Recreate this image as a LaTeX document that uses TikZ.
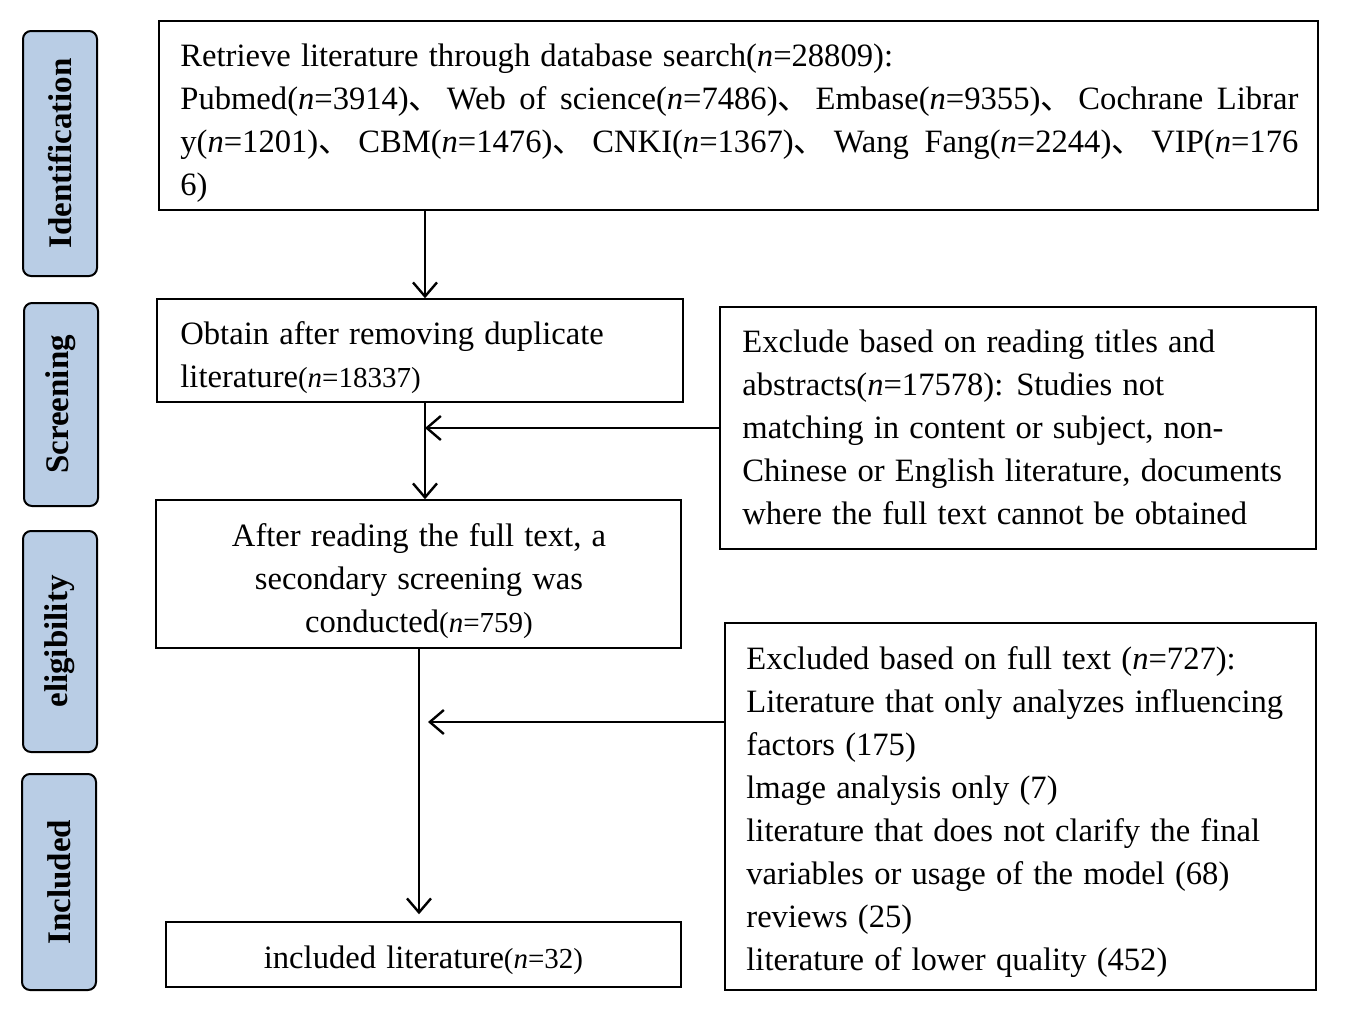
\documentclass[tikz,border=0pt]{standalone}
\usepackage{fontspec}
\setmainfont[WordSpace=1.25]{Liberation Serif}
\newfontfamily\cjkfont{Noto Sans CJK SC}
\newcommand{\dn}{{\cjkfont 、}\hskip 0pt plus 1fil\relax}
\newcommand{\nn}{\textit{n}}
\newcommand{\smallnum}[1]{{\fontsize{14.5}{21.5}\selectfont #1}}
\newcommand{\jline}[1]{\leavevmode\hbox to 559pt{\spaceskip=0.25em plus 1fil\relax #1}}
\usetikzlibrary{arrows.meta}
\definecolor{sideblue}{RGB}{185,205,229}
\begin{document}
\begin{tikzpicture}[x=0.5pt,y=-0.5pt,
  font=\fontsize{16.3}{21.5}\selectfont,
  box/.style={draw, line width=0.75pt, inner sep=0pt},
  txt/.style={inner sep=0pt},
  side/.style={draw, line width=1pt, fill=sideblue, rounded corners=4pt, rotate=90,
    minimum height=37pt, inner sep=0pt, font=\fontsize{16.5}{18}\selectfont\bfseries},
  arr/.style={line width=1.2pt, -{Straight Barb[length=7pt,width=12pt,line width=1.2pt]}}]
\useasboundingbox (0,0) rectangle (1346,1017);

% side labels
\node[side, minimum width=122.5pt] (sid) at (60,153.5) {Identification};
\node[side, minimum width=101.5pt] (ssc) at (61,404.5) {Screening};
\node[side, minimum width=110.5pt] (sel) at (60,641.5) {eligibility};
\node[side, minimum width=108pt] (sin) at (59,882) {Included};

% boxes
\node[box, minimum width=579.5pt, minimum height=94.5pt] (top) at (738.5,115.5) {};
\node[box, minimum width=263pt, minimum height=51.5pt] (obt) at (420,350.5) {};
\node[box, minimum width=298pt, minimum height=121pt] (ex1) at (1018,428) {};
\node[box, minimum width=262.5pt, minimum height=74pt] (aft) at (418.5,574) {};
\node[box, minimum width=295.5pt, minimum height=183.5pt] (ex2) at (1020.5,806.5) {};
\node[box, minimum width=257.5pt, minimum height=32.5pt] (inc) at (423.5,954.5) {};

% texts
\node[txt, anchor=west, align=left] (topt) at (180,123.5)
{Retrieve literature through database search(\nn=28809):\\
\jline{Pubmed(\nn=3914)\dn Web of science(\nn=7486)\dn Embase(\nn=9355)\dn Cochrane Librar}\\
\jline{y(\nn=1201)\dn CBM(\nn=1476)\dn CNKI(\nn=1367)\dn Wang Fang(\nn=2244)\dn VIP(\nn=176}\\
6)};

\node[txt, anchor=west, align=left] (obtt) at (180,357.5)
{Obtain after removing duplicate\\ literature\smallnum{(\nn=18337)}};

\node[txt, anchor=west, align=left] (ex1t) at (742,427.5)
{Exclude based on reading titles and\\
abstracts(\nn=17578): Studies not\\
matching in content or subject, non-\\
Chinese or English literature, documents\\
where the full text cannot be obtained};

\node[txt, align=center] (aftt) at (419,581)
{After reading the full text, a\\ secondary screening was\\ conducted\smallnum{(\nn=759)}};

\node[txt, anchor=west, align=left] (ex2t) at (746,812)
{Excluded based on full text (\nn=727):\\
Literature that only analyzes influencing\\
factors (175)\\
lmage analysis only (7)\\
literature that does not clarify the final\\
variables or usage of the model (68)\\
reviews (25)\\
literature of lower quality (452)};

\node[txt, align=center] (inct) at (423.5,960.5)
{included literature\smallnum{(\nn=32)}};

% connectors
\coordinate (sp1) at (425,0);
\coordinate (sp2) at (419,0);
\coordinate (sp3) at (428,0);
\draw[arr] (sp1 |- top.south) -- (sp1 |- obt.north);
\draw[arr] (sp1 |- obt.south) -- (sp1 |- aft.north);
\draw[arr] (ex1.west) -- (sp1 |- ex1.west);
\draw[arr, shorten >=3.5pt] (sp2 |- aft.south) -- (sp2 |- inc.north);
\draw[arr] (ex2.west |- 0,722) -- (sp3 |- 0,722);
\end{tikzpicture}
\end{document}
